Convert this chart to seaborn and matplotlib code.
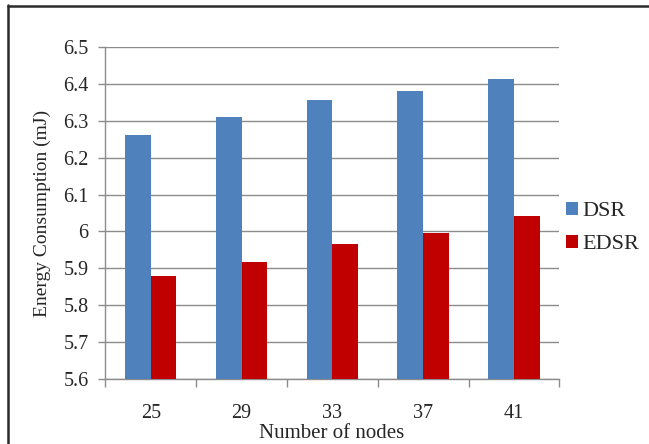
import matplotlib
matplotlib.use("Agg")
import matplotlib.pyplot as plt
from matplotlib.lines import Line2D
from matplotlib.patches import Patch
import seaborn as sns
import pandas as pd

nodes = ["25", "29", "33", "37", "41"]
dsr = [6.261, 6.310, 6.356, 6.381, 6.415]
edsr = [5.879, 5.916, 5.967, 5.996, 6.042]
series = ["DSR", "EDSR"]
colors = {"DSR": "#4F81BD", "EDSR": "#C00000"}
yticks = [5.6, 5.7, 5.8, 5.9, 6.0, 6.1, 6.2, 6.3, 6.4, 6.5]
ytick_labels = ["5.6", "5.7", "5.8", "5.9", "6", "6.1", "6.2", "6.3", "6.4", "6.5"]

df = pd.DataFrame({
    "Nodes": nodes * 2,
    "Series": [series[0]] * len(nodes) + [series[1]] * len(nodes),
    "Energy": dsr + edsr,
})

sns.set_style("white")
plt.rcParams["font.family"] = ["Liberation Serif", "DejaVu Serif"]

fig = plt.figure(figsize=(6.49, 4.44), dpi=100)
ax = fig.add_axes([0.1623, 0.1471, 0.6995, 0.7464])

sns.barplot(data=df, x="Nodes", y="Energy", hue="Series", order=nodes,
            hue_order=series, palette=colors, width=0.567, saturation=1,
            ax=ax, legend=False, zorder=3, linewidth=0)

ax.set_ylim(5.6, 6.5)
ax.set_xlim(-0.5, len(nodes) - 0.5)
ax.set_yticks(yticks)
ax.set_yticklabels(ytick_labels)
ax.yaxis.grid(True, color="#8c8c8c", linewidth=1.0, zorder=0)
ax.set_axisbelow(True)

for side in ["top", "right"]:
    ax.spines[side].set_visible(False)
for side in ["left", "bottom"]:
    ax.spines[side].set_color("#8c8c8c")
    ax.spines[side].set_linewidth(1.0)

ax.tick_params(axis="y", length=5, width=1, color="#8c8c8c", pad=7,
               labelsize=14.5, left=True)
ax.tick_params(axis="x", which="major", length=0, pad=18, labelsize=14.5)
ax.set_xticks([i - 0.5 for i in range(len(nodes) + 1)], minor=True)
ax.tick_params(axis="x", which="minor", length=6, width=1, color="#8c8c8c",
               bottom=True)

ax.set_xlabel("")
ax.set_ylabel("Energy Consumption (mJ)", fontsize=14, labelpad=9)
fig.text(332 / 649, 0.014, "Number of nodes", ha="center", va="baseline",
         fontsize=15)

handles = [Patch(facecolor=colors[s], edgecolor="none") for s in series]
fig.legend(handles, series, loc="center left",
           bbox_to_anchor=(566 / 649, 1 - 228 / 444), frameon=False,
           fontsize=16, handlelength=0.55, handleheight=0.55,
           handletextpad=0.2, labelspacing=0.6, borderpad=0,
           borderaxespad=0)

# outer frame: top and left edges
fig.add_artist(Line2D([7.5 / 649, 1.0], [1 - 6 / 444, 1 - 6 / 444],
                      transform=fig.transFigure, color="#2b2b2b", linewidth=1.8))
fig.add_artist(Line2D([8 / 649, 8 / 649], [0.0, 1 - 5 / 444],
                      transform=fig.transFigure, color="#2b2b2b", linewidth=1.8))

fig.savefig("out.png", dpi=100)
